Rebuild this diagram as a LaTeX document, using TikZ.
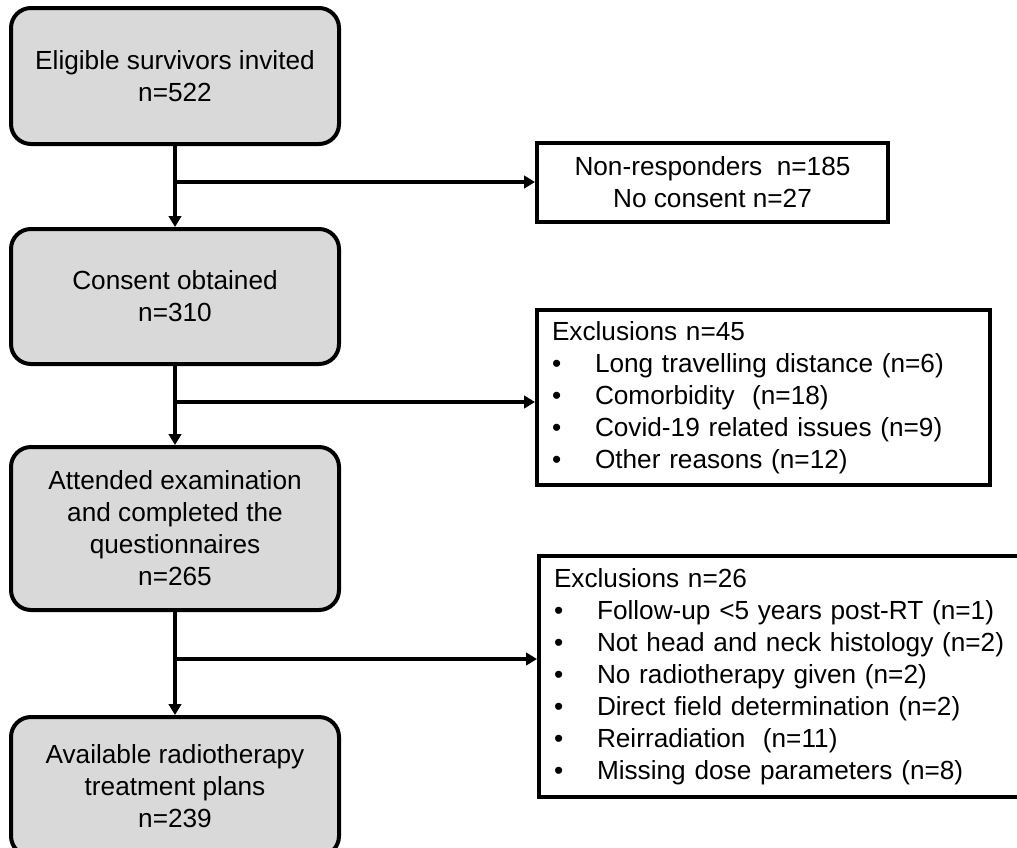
\documentclass[tikz,border=0pt]{standalone}
\usepackage{fontspec}
\setmainfont{Liberation Sans}
\usetikzlibrary{arrows.meta}

\definecolor{boxgrey}{HTML}{D9D9D9}
\newcommand{\bul}[1]{\\\makebox[43pt][l]{\textbullet}#1}

\begin{document}
\begin{tikzpicture}[x=1pt, y=-1pt,
    >={Triangle[length=11pt,width=12.5pt]},
    stage/.style={draw, line width=4pt, fill=boxgrey, rounded corners=20pt,
      minimum width=328pt, align=center, inner sep=0pt},
    outbox/.style={draw, line width=4pt, inner xsep=15pt, inner ysep=0pt},
    link/.style={line width=3.2pt}]
    \tikzstyle{every node}=[font=\fontsize{26.2pt}{32pt}\selectfont]
    \useasboundingbox (0,0) rectangle (1017,847);
    \clip (0,0) rectangle (1017,847);

    % main flow
    \node[stage, minimum height=136pt] (elig) at (175,76)
      {Eligible survivors invited\\n=522};
    \node[stage, minimum height=135pt] (cons) at (175,296.5)
      {Consent obtained\\n=310};
    \node[stage, minimum height=163pt] (att) at (175,528.5)
      {Attended examination\\and completed the\\questionnaires\\n=265};
    \node[stage, minimum height=139pt] (avail) at (175,786.5)
      {Available radiotherapy\\treatment plans\\n=239};

    % excluded
    \node[outbox, minimum width=351pt, minimum height=79pt, align=center] (nonresp) at (712.5,182.5)
      {Non-responders\ \ n=185\\No consent n=27};
    \node[outbox, text width=423pt, minimum height=175pt, align=left] (exclA) at (763.5,397.5)
      {Exclusions n=45
       \bul{Long travelling distance (n=6)}
       \bul{Comorbidity\ \ (n=18)}
       \bul{Covid-19 related issues (n=9)}
       \bul{Other reasons (n=12)}};
    \node[outbox, text width=470pt, minimum height=241pt, align=left] (exclB) at (789,676.5)
      {Exclusions n=26
       \bul{Follow-up <5 years post-RT (n=1)}
       \bul{Not head and neck histology (n=2)}
       \bul{No radiotherapy given (n=2)}
       \bul{Direct field determination (n=2)}
       \bul{Reirradiation\ \ (n=11)}
       \bul{Missing dose parameters (n=8)}};

    \coordinate (s1) at (175,182);
    \coordinate (s2) at (175,402);
    \coordinate (s3) at (175,659);

    \draw[link, ->] (elig) -- (cons);
    \draw[link, ->] (cons) -- (att);
    \draw[link, ->] (att) -- (avail);
    \draw[link, ->] (s1) -- (s1 -| nonresp.west);
    \draw[link, ->] (s2) -- (s2 -| exclA.west);
    \draw[link, ->] (s3) -- (s3 -| exclB.west);
  \end{tikzpicture}
\end{document}
